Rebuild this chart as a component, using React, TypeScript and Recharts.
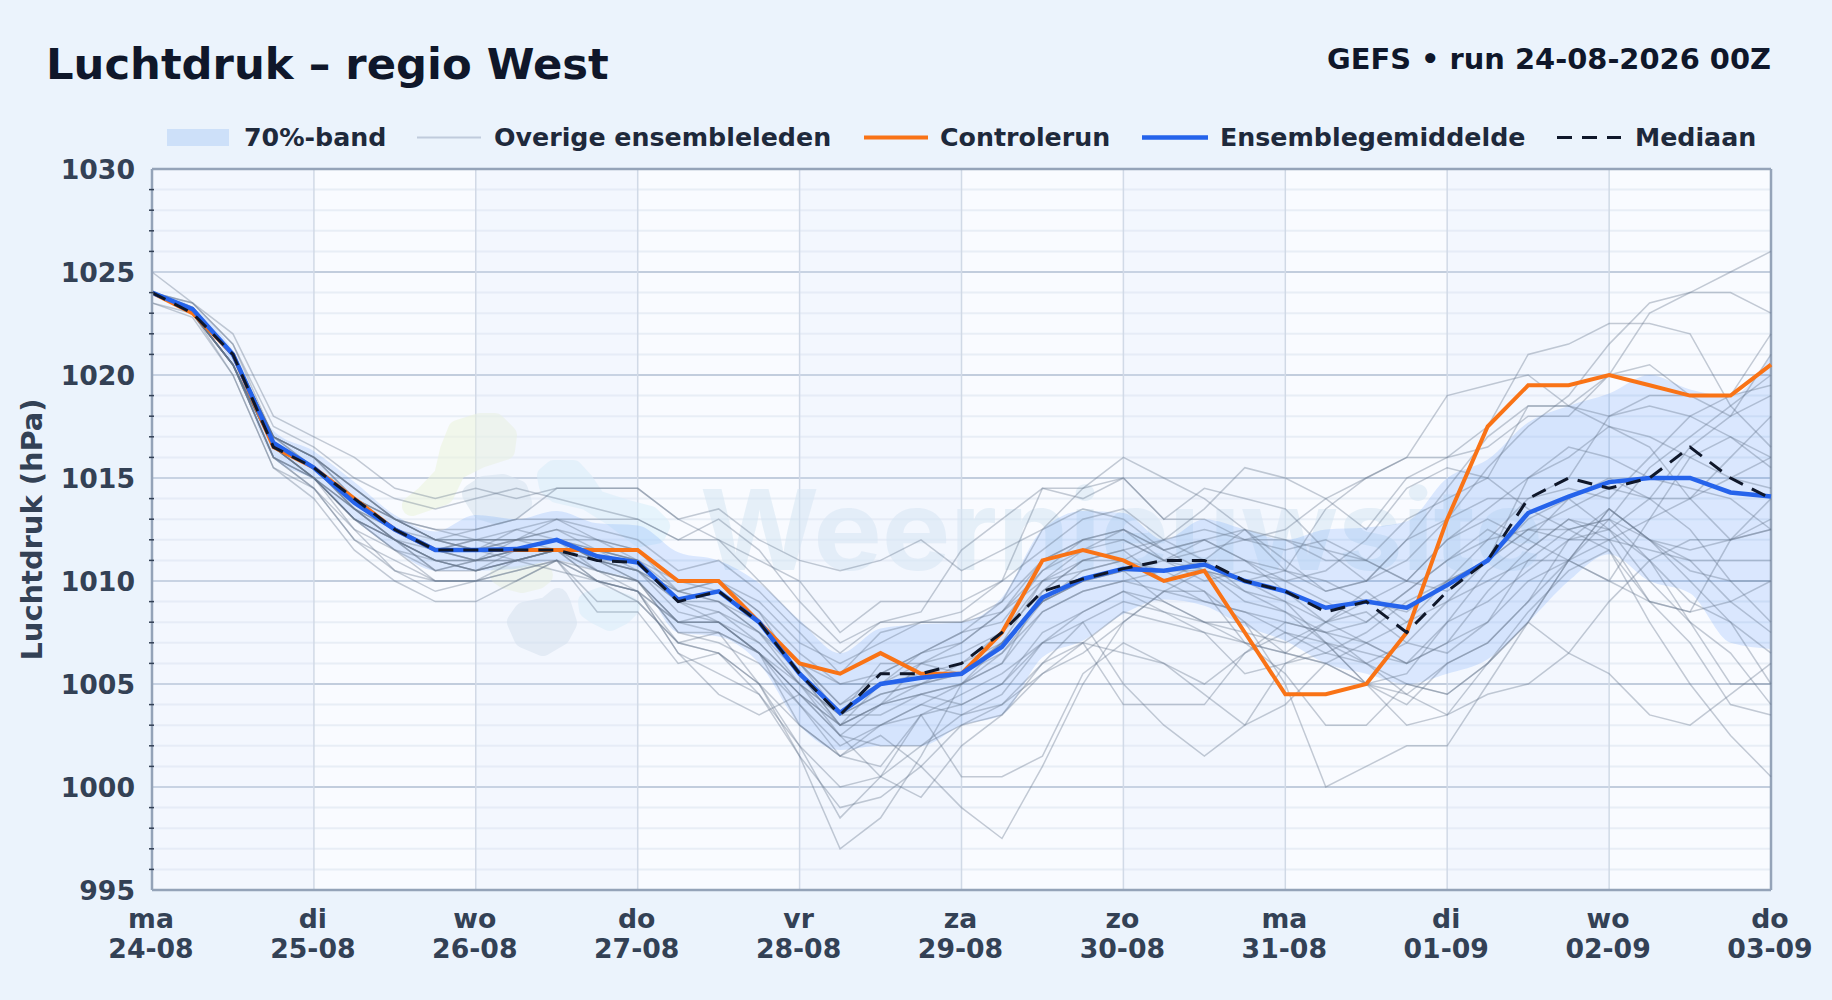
/**
 * Luchtdruk ensemble pluim - regio West
 */
import { Area, CartesianGrid, ComposedChart, Line, ReferenceArea, ReferenceLine, XAxis, YAxis } from "recharts";

const hours = [
  0, 6, 12, 18, 24, 30, 36, 42, 48, 54, 60, 66, 72, 78, 84, 90, 96, 102, 108, 114, 120, 126, 132, 138, 144, 150, 156,
  162, 168, 174, 180, 186, 192, 198, 204, 210, 216, 222, 228, 234, 240,
];
const dayTicks = [0, 24, 48, 72, 96, 120, 144, 168, 192, 216, 240];
const dayNames = ["ma", "di", "wo", "do", "vr", "za", "zo", "ma", "di", "wo", "do"];
const dayDates = ["24-08", "25-08", "26-08", "27-08", "28-08", "29-08", "30-08", "31-08", "01-09", "02-09", "03-09"];
const majorTicks = [995, 1000, 1005, 1010, 1015, 1020, 1025, 1030];
const minorTicks = [
  996, 997, 998, 999, 1001, 1002, 1003, 1004, 1006, 1007, 1008, 1009, 1011, 1012, 1013, 1014, 1016, 1017, 1018, 1019,
  1021, 1022, 1023, 1024, 1026, 1027, 1028, 1029,
];

const control = [
  1024, 1023, 1021, 1016.5, 1015.5, 1014, 1012.5, 1011.5, 1011.5, 1011.5, 1011.5, 1011.5, 1011.5, 1010, 1010, 1008,
  1006, 1005.5, 1006.5, 1005.5, 1005.5, 1007.5, 1011, 1011.5, 1011, 1010, 1010.5, 1007.5, 1004.5, 1004.5, 1005, 1007.5,
  1013, 1017.5, 1019.5, 1019.5, 1020, 1019.5, 1019, 1019, 1020.5,
];
const mean = [
  1024, 1023.2, 1021, 1016.7, 1015.5, 1013.8, 1012.5, 1011.5, 1011.5, 1011.55, 1012, 1011.2, 1010.9, 1009.1, 1009.5,
  1008, 1005.5, 1003.6, 1005, 1005.3, 1005.5, 1006.8, 1009.2, 1010.1, 1010.6, 1010.5, 1010.8, 1010, 1009.5, 1008.7, 1009,
  1008.7, 1009.8, 1011, 1013.3, 1014.1, 1014.8, 1015, 1015, 1014.3, 1014.1,
];
const median = [
  1024, 1023, 1021, 1016.5, 1015.5, 1014, 1012.5, 1011.5, 1011.5, 1011.5, 1011.5, 1011, 1010.9, 1009, 1009.5, 1008,
  1005.5, 1003.5, 1005.5, 1005.5, 1006, 1007.5, 1009.5, 1010.1, 1010.6, 1011, 1011, 1010, 1009.5, 1008.5, 1009, 1007.5,
  1009.5, 1011, 1014, 1015, 1014.5, 1015, 1016.5, 1015, 1014,
];
const bandLow = [
  1024, 1023, 1020.5, 1016, 1014.9, 1013, 1011.5, 1010.5, 1010.5, 1010.6, 1011, 1010.5, 1010, 1007.5, 1007.3, 1006, 1003,
  1001.8, 1002, 1002, 1003, 1003.5, 1006.3, 1007.1, 1008.4, 1009.1, 1008.8, 1007.8, 1007.1, 1006, 1005.5, 1005, 1005.5,
  1006.2, 1008, 1010, 1011.3, 1010, 1009.4, 1007, 1006.7,
];
const bandHigh = [
  1024, 1023.3, 1021.2, 1017.3, 1016.3, 1014.8, 1013.2, 1012.4, 1013.2, 1013, 1013.4, 1012.8, 1012.7, 1011.4, 1011,
  1009.9, 1008.1, 1006.5, 1007.7, 1007.9, 1008, 1009.2, 1012.5, 1013.4, 1013.3, 1012, 1013, 1012.5, 1012, 1012.5, 1012.6,
  1012.9, 1015, 1015.9, 1017.7, 1018.5, 1019.1, 1020, 1019.3, 1019, 1021,
];

const members = [
  [1025, 1023.5, 1022, 1018, 1017, 1016, 1014.5, 1014, 1014.5, 1014, 1014.5, 1014.5, 1014.5, 1013, 1013.5, 1012, 1011, 1010.5, 1011, 1012, 1010.5, 1011.5, 1012.5, 1014.5, 1016, 1015, 1014, 1012.5, 1010.5, 1009.5, 1010, 1011, 1013, 1015.5, 1017.5, 1019, 1021.5, 1023.5, 1024, 1025, 1026],
  [1024, 1023.5, 1021.5, 1017.5, 1016.5, 1015, 1014, 1013.5, 1014, 1014.5, 1014, 1013.5, 1013, 1012, 1013, 1011.5, 1009, 1007, 1008, 1008.5, 1011.5, 1013, 1014.5, 1014, 1015, 1013, 1014.5, 1014, 1013.5, 1011.5, 1010, 1012, 1014.5, 1017, 1018.5, 1018.5, 1020, 1023, 1024, 1024, 1023],
  [1024, 1023.3, 1021, 1017, 1016, 1014.5, 1013, 1012.5, 1012.5, 1013, 1014.5, 1014.5, 1014.5, 1013, 1012, 1011, 1010, 1007.5, 1009, 1009, 1009, 1010, 1011.5, 1013, 1013.5, 1012, 1013.5, 1015.5, 1015, 1014, 1012.5, 1015, 1016, 1017.5, 1021, 1021.5, 1022.5, 1022.5, 1022, 1018.5, 1016.5],
  [1024, 1023, 1021, 1017, 1016, 1014.5, 1013, 1012, 1011.5, 1012, 1013, 1013, 1013, 1012, 1012, 1010, 1008, 1006.5, 1008, 1008, 1008.5, 1010, 1014.5, 1014.5, 1015, 1013, 1013, 1012, 1012.5, 1014, 1015, 1016, 1019, 1019.5, 1020, 1018.5, 1017.5, 1016.5, 1014, 1012, 1012.5],
  [1024, 1023, 1020.5, 1016.5, 1015.5, 1013.5, 1012.5, 1011.5, 1012, 1012, 1011.5, 1011, 1010.5, 1009.5, 1009, 1008, 1006, 1004, 1005.5, 1006.5, 1007.5, 1009, 1011, 1012, 1012.5, 1011.5, 1010.5, 1010, 1010.5, 1013.5, 1015, 1016, 1016, 1016.5, 1018, 1018, 1020, 1020.5, 1019, 1019, 1022],
  [1024, 1023, 1020.5, 1016.5, 1015, 1013, 1012, 1010.5, 1011, 1011.5, 1012, 1011, 1010.5, 1009.5, 1010, 1009, 1007, 1006, 1007, 1008, 1008, 1008.5, 1010.5, 1012, 1012, 1011, 1011.5, 1012, 1012, 1011, 1011, 1013, 1014, 1015, 1018.5, 1018.5, 1018, 1019, 1019, 1018, 1021],
  [1024, 1023, 1020.5, 1016, 1014.5, 1012.5, 1011.5, 1010.5, 1010.5, 1011, 1011.5, 1010.5, 1010, 1008, 1007.5, 1005, 1001.5, 997, 998.5, 1001.5, 1005, 1007, 1009, 1010.5, 1011, 1012, 1012.5, 1012, 1011.5, 1012, 1011, 1010, 1009.5, 1011, 1012.5, 1013.5, 1014.5, 1014, 1014, 1015, 1016],
  [1024, 1023, 1020, 1015.5, 1014.5, 1012, 1011, 1010, 1010, 1010.5, 1011, 1009, 1009, 1007, 1006.5, 1004.5, 1002, 998.5, 1000.5, 1002, 1003.5, 1004.5, 1007, 1008.5, 1009.5, 1009, 1008, 1007, 1006.5, 1006, 1005, 1004, 1006, 1007, 1009, 1012, 1013.5, 1012, 1011, 1009, 1007.5],
  [1024, 1023, 1020.5, 1016, 1015, 1012.5, 1010.5, 1009.5, 1010, 1010, 1011, 1010, 1009.5, 1006.5, 1005.5, 1004.5, 1001.5, 999, 999.5, 1001, 1003, 1004, 1005.5, 1006.5, 1008, 1009.5, 1010.5, 1010, 1009, 1007, 1006.5, 1006, 1007, 1009.5, 1011.5, 1013, 1012.5, 1010, 1008, 1006.5, 1004],
  [1024, 1023, 1021, 1016.5, 1015, 1013, 1012, 1011, 1010.5, 1011, 1011, 1010.5, 1010, 1007.5, 1007.5, 1006.5, 1003, 1001.5, 1002.5, 1001, 999, 997.5, 1001, 1005, 1008, 1009.5, 1009.5, 1008, 1006.5, 1006, 1005, 1005.5, 1008, 1010.5, 1012, 1014, 1012.5, 1011, 1009, 1008, 1005],
  [1024, 1023, 1020.5, 1016, 1014.5, 1012, 1010.5, 1010, 1010, 1010.5, 1011, 1008.5, 1008.5, 1006, 1006.5, 1005, 1002, 1000, 1000.5, 1003.5, 1000.5, 1000.5, 1001.5, 1005.5, 1007, 1006, 1004.5, 1003, 1004, 1006, 1007, 1006, 1007, 1008, 1010, 1011, 1012, 1011.5, 1011, 1011, 1011],
  [1024, 1023, 1020.5, 1016, 1015, 1013, 1011.5, 1010, 1010, 1011, 1011.5, 1010, 1009.5, 1006.5, 1004.5, 1003.5, 1004.5, 1002.5, 1000.5, 999.5, 1002, 1003.5, 1005.5, 1007, 1008.5, 1008, 1007.5, 1007, 1006.5, 1008, 1009.5, 1008, 1009, 1010, 1011, 1012.5, 1013, 1012, 1011.5, 1012, 1013],
  [1024, 1023.2, 1021, 1016.5, 1015.5, 1013.5, 1012, 1011, 1010.5, 1011.5, 1012, 1011, 1010.5, 1008.5, 1008, 1006.5, 1004, 1001.5, 1001, 1003.5, 1004.5, 1005.5, 1007, 1007, 1004, 1004, 1004, 1006.5, 1007.5, 1007, 1006, 1004.5, 1003.5, 1006, 1008, 1011, 1013.5, 1012, 1010.5, 1010, 1010],
  [1024, 1023, 1021, 1016.5, 1015, 1013.5, 1012, 1010.5, 1011, 1011, 1011.5, 1010, 1009, 1007, 1007.5, 1006.5, 1004.5, 1003, 1004, 1004.5, 1004, 1005, 1007, 1008, 1005, 1003, 1001.5, 1003, 1006, 1006.5, 1006, 1007, 1006.5, 1008, 1011, 1011, 1010, 1009, 1008.5, 1009, 1010],
  [1024, 1023, 1020.5, 1016.5, 1015, 1013, 1012, 1011, 1010.5, 1011, 1011.5, 1011, 1010, 1008, 1008, 1007, 1005, 1003.5, 1004.5, 1005, 1005.5, 1007, 1009, 1010, 1010.5, 1009, 1008, 1008, 1005, 1000, 1001, 1002, 1002, 1005, 1008, 1011, 1013.5, 1012, 1010, 1008, 1006.5],
  [1024, 1023.2, 1021, 1016.5, 1015.5, 1014, 1013, 1012, 1011.5, 1012, 1012.5, 1011.5, 1011, 1009, 1009.5, 1008, 1005.5, 1003, 1004, 1005, 1005.5, 1006.5, 1009, 1010, 1010.5, 1010.5, 1009.5, 1007, 1005.5, 1003, 1003, 1005, 1004.5, 1006, 1008.5, 1010.5, 1011.5, 1008, 1005, 1002.5, 1000.5],
  [1024, 1023, 1020.5, 1016.5, 1015, 1013.5, 1012.5, 1011.5, 1011, 1011.5, 1012, 1010.5, 1010, 1007.5, 1007, 1006, 1004, 1002, 1003, 1004, 1003.5, 1004, 1006, 1008, 1009, 1008.5, 1007.5, 1005.5, 1006, 1007, 1005, 1003, 1003.5, 1004.5, 1005, 1006.5, 1009, 1011, 1012, 1012, 1012.5],
  [1024, 1023, 1020.5, 1016, 1015, 1013, 1011.5, 1011, 1011, 1011.5, 1012, 1011, 1010.5, 1009, 1009, 1007.5, 1005, 1002.5, 1002, 1002, 1003, 1003.5, 1006, 1007, 1006.5, 1006, 1005, 1006.5, 1008, 1007.5, 1006, 1005, 1004.5, 1006, 1008, 1006.5, 1005.5, 1003.5, 1003, 1004.5, 1006],
  [1024, 1023.2, 1021, 1017, 1016, 1014, 1013, 1012, 1012, 1012, 1012.5, 1012, 1011, 1010, 1009.5, 1008, 1006, 1003.5, 1004.5, 1005, 1006, 1007.5, 1010, 1011, 1011, 1010.5, 1010.5, 1009, 1008.5, 1007, 1005, 1004.5, 1006, 1007, 1009, 1011, 1013, 1011, 1008, 1005, 1005],
  [1024, 1023, 1020.5, 1016.5, 1015.5, 1013.5, 1012, 1011, 1011, 1011.5, 1011.5, 1010.5, 1009.5, 1008, 1008, 1006.5, 1005, 1003.5, 1003.5, 1004.5, 1005, 1006, 1008.5, 1009.5, 1010, 1009.5, 1009, 1008.5, 1008, 1007.5, 1007, 1006, 1008, 1009, 1010.5, 1012, 1012, 1009, 1007, 1004, 1003.5],
  [1024, 1023.5, 1021.5, 1017, 1016, 1014.5, 1013, 1012, 1012, 1012.5, 1013, 1012, 1011.5, 1010, 1010, 1008.5, 1006.5, 1005, 1005, 1006.5, 1007, 1008.5, 1011, 1012, 1012.5, 1011.5, 1012, 1011, 1010, 1009, 1008, 1009.5, 1011, 1012, 1012.5, 1012.5, 1011.5, 1009, 1008.5, 1012, 1014],
  [1024, 1023.2, 1021, 1017, 1016, 1014, 1013, 1012, 1012.5, 1013, 1013, 1012.5, 1012, 1010.5, 1011, 1009.5, 1007.5, 1005.5, 1007.5, 1008, 1008, 1009, 1012.5, 1013.5, 1013, 1011.5, 1012, 1012.5, 1012, 1011.5, 1011, 1010, 1012, 1013.5, 1015, 1016, 1017.5, 1017, 1016, 1015, 1014.5],
  [1024, 1023, 1021, 1016.5, 1015.5, 1014, 1012.5, 1011.5, 1011.5, 1011, 1011.5, 1011.5, 1011, 1009, 1009.5, 1008, 1006, 1004, 1005, 1006, 1006.5, 1007.5, 1009.5, 1011, 1011.5, 1010, 1011, 1012.5, 1011, 1009.5, 1010, 1012, 1013, 1014, 1014, 1015, 1018, 1018.5, 1018, 1017, 1016],
  [1024, 1023, 1021, 1016.5, 1015.5, 1014, 1012.5, 1011.5, 1012, 1011.5, 1012, 1012, 1011.5, 1009.5, 1010, 1008.5, 1005.5, 1003, 1005, 1005.5, 1006, 1007, 1009, 1010, 1010.5, 1011, 1010.5, 1009.5, 1009, 1008, 1008.5, 1007, 1009, 1011, 1015, 1016.5, 1016, 1015, 1014.5, 1014, 1012.5],
  [1024, 1023.2, 1021, 1017, 1016, 1014.5, 1013, 1012.5, 1012, 1012, 1012, 1011.5, 1011, 1009.5, 1009, 1007.5, 1005.5, 1003.5, 1006, 1006, 1007, 1008.5, 1010, 1011.5, 1012, 1011, 1012, 1011, 1009.5, 1008, 1007, 1008, 1010, 1012, 1014, 1014.5, 1014, 1016, 1018, 1019, 1019.5],
  [1024, 1023, 1020.5, 1016.5, 1015, 1013.5, 1012, 1011, 1010.5, 1011, 1010.5, 1010, 1009.5, 1008, 1008.5, 1007, 1005, 1003, 1004, 1006, 1005.5, 1007, 1010, 1010.5, 1011, 1010, 1009, 1008.5, 1007.5, 1006.5, 1007.5, 1009, 1010, 1011, 1012.5, 1012, 1012.5, 1014, 1016.5, 1018, 1019],
  [1024, 1023.3, 1021, 1017, 1015.5, 1014, 1012.5, 1012, 1011.5, 1012.5, 1012, 1011.5, 1010.5, 1009, 1008.5, 1007.5, 1006, 1005, 1005.5, 1006.5, 1007.5, 1008, 1010.5, 1011.5, 1012.5, 1011, 1010, 1010.5, 1010, 1010.5, 1012, 1014.5, 1015.5, 1015, 1013.5, 1012.5, 1013, 1015.5, 1017, 1018.5, 1020],
  [1024, 1023, 1021, 1016.5, 1015, 1013, 1012, 1011.5, 1011, 1011, 1011.5, 1011, 1010, 1008, 1008, 1006.5, 1004.5, 1002.5, 1004, 1004.5, 1005, 1006.5, 1008.5, 1009.5, 1010, 1010.5, 1011, 1009.5, 1008.5, 1007.5, 1008, 1009.5, 1011, 1012.5, 1011.5, 1013, 1012, 1013, 1014, 1016, 1018],
  [1023.5, 1023, 1021, 1017, 1015.5, 1014, 1012.5, 1011.5, 1011, 1012, 1012, 1011, 1011, 1009, 1008, 1006.5, 1004.5, 1003, 1003, 1004, 1005, 1006, 1009.5, 1011, 1011.5, 1012, 1011, 1011, 1010.5, 1010, 1009, 1008.5, 1010, 1011, 1013, 1014, 1015, 1014, 1012.5, 1010, 1008],
  [1023.5, 1022.8, 1020, 1015.5, 1014, 1011.5, 1010, 1009, 1009, 1010, 1011, 1010, 1009.5, 1007, 1006.5, 1005, 1003, 1001.5, 1003, 1003.5, 1004, 1005, 1007.5, 1008.5, 1009.5, 1008.5, 1008, 1007.5, 1007, 1008, 1009, 1010, 1012, 1013, 1012, 1011, 1010, 1013, 1016, 1017, 1015.5],
];

const rows = hours.map((hour, i) => {
  const row: Record<string, any> = {
    hour,
    band: [bandLow[i], bandHigh[i]],
    control: control[i],
    mean: mean[i],
    median: median[i],
  };
  members.forEach((m, k) => {
    row[`m${k}`] = m[i];
  });
  return row;
});

const FONT = '"DejaVu Sans", sans-serif';
const TICK_COLOR = "#334155";
const FRAME_COLOR = "#94a3b8";

function HourTick({ x, y, payload }: any) {
  const i = dayTicks.indexOf(payload.value);
  return (
    <text x={x - 1} y={y} textAnchor="middle" fontFamily={FONT} fontWeight={700} fontSize={26.7} fill={TICK_COLOR}>
      <tspan x={x - 1} dy={30}>{dayNames[i]}</tspan>
      <tspan x={x - 1} dy={30}>{dayDates[i]}</tspan>
    </text>
  );
}

function PressureTick({ x, y, payload }: any) {
  if (minorTicks.includes(payload.value)) {
    return <line x1={x + 5} x2={x + 10} y1={y} y2={y} stroke="#334155" strokeWidth={1.5} />;
  }
  return (
    <text x={x - 9} y={y} dy={9.5} textAnchor="end" fontFamily={FONT} fontWeight={700} fontSize={26.7} fill={TICK_COLOR}>
      {payload.value}
    </text>
  );
}

// watermark behind the plume
function Watermark() {
  const blob = (points: string, color: string) => (
    <polygon points={points} fill={color} stroke={color} strokeWidth={20} strokeLinejoin="round" />
  );
  return (
    <g opacity={0.55} style={{ pointerEvents: "none" }}>
      {blob("458,430 480,423 495,423 507,435 505,450 480,458 456,470 444,495 412,506 425,496 444,476 450,450", "#ecf4dc")}
      {blob("472,494 484,486 503,484 518,490 522,503 512,510 498,515 482,510", "#d5e3ee")}
      {blob("547,476 554,470 573,470 584,482 596,500 627,510 650,516 660,526 656,534 640,537 614,517 587,500 557,493 549,486", "#d8effa")}
      {blob("517,622 524,612 547,607 558,598 561,604 567,623 560,636 543,646 524,638", "#d3e0ec")}
      {blob("588,602 602,597 626,604 630,607 622,615 610,621 596,614 589,609", "#d8effa")}
      {blob("500,575 512,577 541,573 543,575 538,579 522,583 506,579", "#ecf4dc")}
      <text x={700} y={570} fontFamily="Inter, sans-serif" fontWeight={700} fontSize={112} fill="#d5e6f3" textLength={843} lengthAdjust="spacingAndGlyphs">
        Weernieuwsite
      </text>
    </g>
  );
}

const legendText = { fontFamily: FONT, fontWeight: 700, fontSize: 25.3, fill: "#1e293b" };

export default function App() {
  return (
    <div style={{ position: "absolute", left: 0, top: 0, width: 1832, height: 1000, background: "#ebf3fc", overflow: "hidden" }}>
      <div style={{ position: "absolute", left: 46, top: 38, fontFamily: FONT, fontWeight: 700, fontSize: 43.3, lineHeight: "52px", color: "#0f172a" }}>
        Luchtdruk – regio West
      </div>
      <div style={{ position: "absolute", right: 61, top: 41, fontFamily: FONT, fontWeight: 700, fontSize: 28.9, lineHeight: "36px", color: "#0f172a" }}>
        GEFS • run 24-08-2026 00Z
      </div>

      <ComposedChart
        width={1832}
        height={1000}
        data={rows}
        margin={{ top: 169, right: 61, bottom: 50, left: 92 }}
        style={{ position: "absolute", left: 0, top: 0 }}
      >
        <CartesianGrid vertical={false} horizontalValues={minorTicks} stroke="#e8eef6" strokeWidth={2} fill="#f9fbff" />
        <CartesianGrid vertical={false} horizontalValues={majorTicks} stroke="#c2cddd" strokeWidth={2} />
        <CartesianGrid horizontal={false} verticalValues={dayTicks} stroke="#cfd8e4" strokeWidth={1.5} />
        {dayTicks.slice(0, -1).map((d, i) =>
          i % 2 === 0 ? <ReferenceArea key={d} x1={d} x2={dayTicks[i + 1]} fill="#dfeafc" fillOpacity={0.22} stroke="none" /> : null,
        )}
        <Watermark />

        <XAxis
          dataKey="hour"
          type="number"
          domain={[0, 240]}
          ticks={dayTicks}
          height={60}
          tick={HourTick}
          tickLine={false}
          axisLine={{ stroke: FRAME_COLOR, strokeWidth: 2.5 }}
          interval={0}
        />
        <YAxis
          type="number"
          domain={[995, 1030]}
          ticks={[...majorTicks, ...minorTicks].sort((a, b) => a - b)}
          width={60}
          tick={PressureTick}
          tickLine={false}
          axisLine={{ stroke: FRAME_COLOR, strokeWidth: 2.5 }}
          interval={0}
          label={{
            value: "Luchtdruk (hPa)",
            angle: -90,
            position: "insideLeft",
            offset: 0,
            dx: -60,
            style: { fontFamily: FONT, fontWeight: 700, fontSize: 28.9, fill: TICK_COLOR, textAnchor: "middle" },
          }}
        />
        <ReferenceLine y={1030} stroke={FRAME_COLOR} strokeWidth={2.5} />
        <ReferenceLine x={240} stroke={FRAME_COLOR} strokeWidth={2.5} />

        <Area dataKey="band" type="monotone" stroke="none" fill="#3b82f6" fillOpacity={0.16} isAnimationActive={false} dot={false} activeDot={false} />
        {members.map((_, k) => (
          <Line key={k} dataKey={`m${k}`} type="linear" stroke="#64748b" strokeOpacity={0.37} strokeWidth={1.5} dot={false} activeDot={false} isAnimationActive={false} />
        ))}
        <Line dataKey="control" type="linear" stroke="#f97316" strokeWidth={4} dot={false} activeDot={false} isAnimationActive={false} />
        <Line dataKey="mean" type="linear" stroke="#2563eb" strokeWidth={4.5} dot={false} activeDot={false} isAnimationActive={false} />
        <Line dataKey="median" type="linear" stroke="#0f172a" strokeWidth={3} strokeDasharray="15 10" dot={false} activeDot={false} isAnimationActive={false} />
      </ComposedChart>

      <svg width={1832} height={169} style={{ position: "absolute", left: 0, top: 0 }}>
        <rect x={167} y={129} width={62} height={17} fill="#cde0f9" />
        <text x={244} y={146} {...legendText}>70%-band</text>
        <line x1={417} x2={481} y1={137.5} y2={137.5} stroke="#c0cbdc" strokeWidth={2} />
        <text x={494} y={146} {...legendText}>Overige ensembleleden</text>
        <line x1={864} x2={928} y1={137.5} y2={137.5} stroke="#f97316" strokeWidth={4} />
        <text x={940} y={146} {...legendText}>Controlerun</text>
        <line x1={1142} x2={1208} y1={137.5} y2={137.5} stroke="#2563eb" strokeWidth={4.5} />
        <text x={1220} y={146} {...legendText}>Ensemblegemiddelde</text>
        <line x1={1557} x2={1621} y1={137.5} y2={137.5} stroke="#0f172a" strokeWidth={3} strokeDasharray="15 10" />
        <text x={1635} y={146} {...legendText}>Mediaan</text>
      </svg>
    </div>
  );
}
